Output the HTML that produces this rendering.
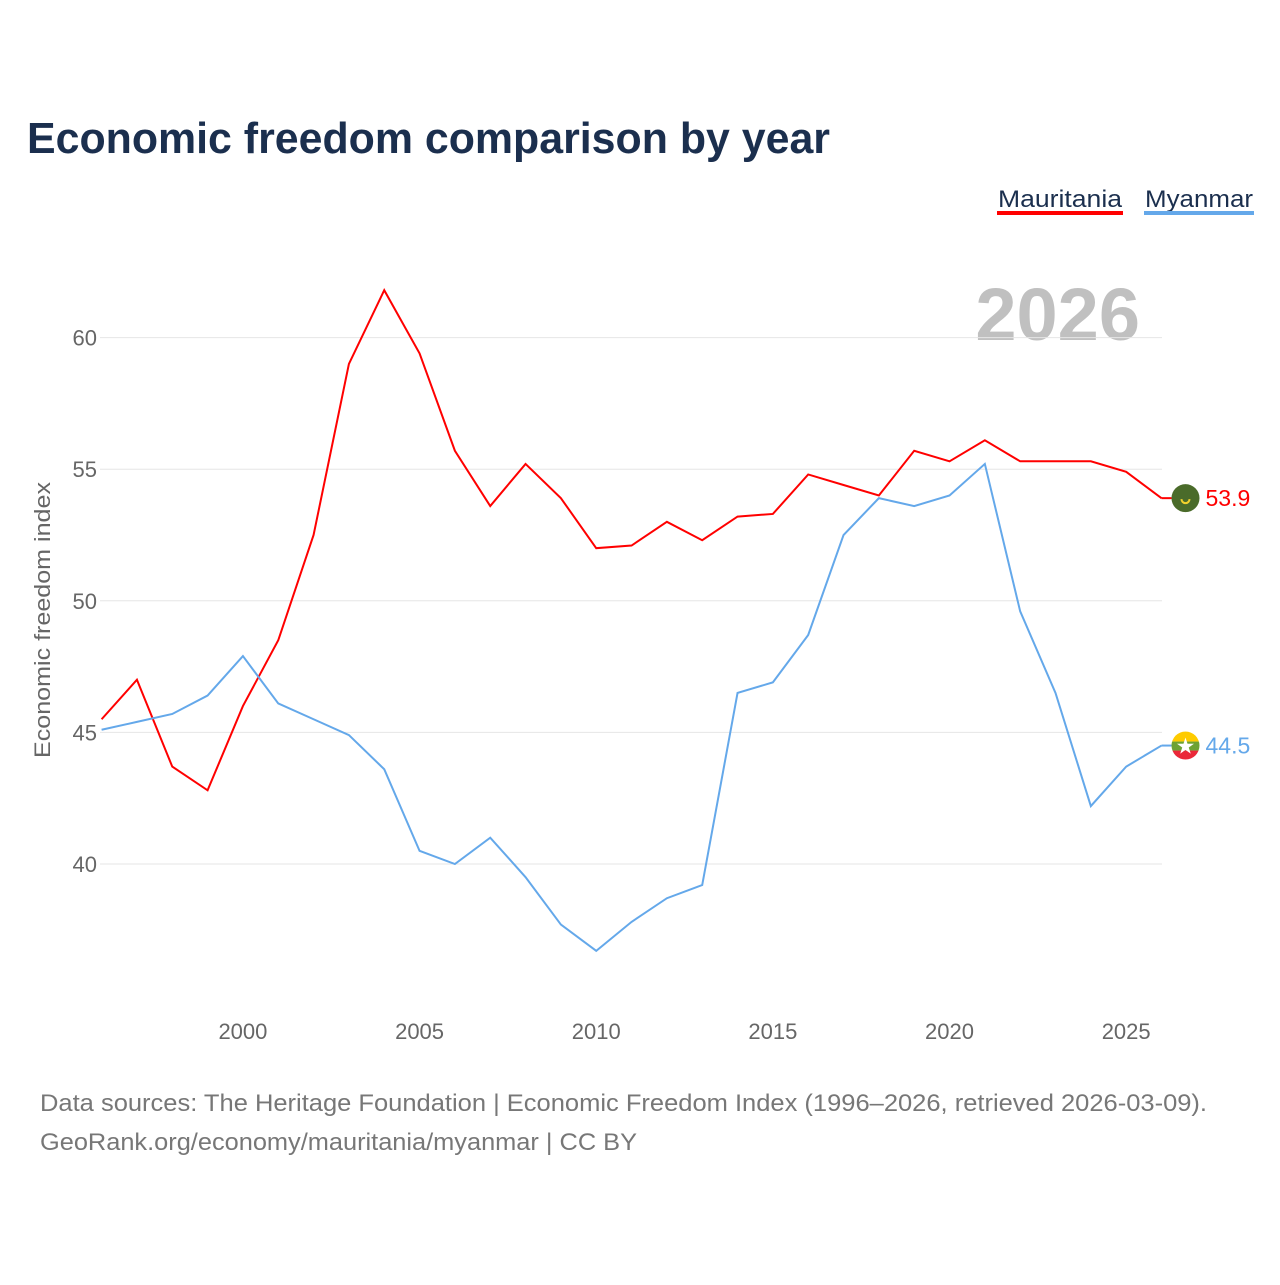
<!DOCTYPE html>
<html><head><meta charset="utf-8"><style>
body{margin:0;background:#fff;width:1280px;height:1280px;overflow:hidden;font-family:"Liberation Sans",sans-serif}
</style></head><body>
<svg id="c" width="1280" height="1280" xmlns="http://www.w3.org/2000/svg">
<text x="27" y="153" font-size="44" font-weight="bold" fill="#1b2f4e" textLength="803" lengthAdjust="spacingAndGlyphs">Economic freedom comparison by year</text>
<g><text x="998" y="207" font-size="24" fill="#1b2f4e" textLength="124" lengthAdjust="spacingAndGlyphs">Mauritania</text><rect x="997" y="211" width="126" height="4" fill="#ff0000"/></g>
<g><text x="1145" y="207" font-size="24" fill="#1b2f4e" textLength="108" lengthAdjust="spacingAndGlyphs">Myanmar</text><rect x="1144" y="211" width="110" height="4" fill="#64a8ea"/></g>
<text x="1140" y="340" text-anchor="end" font-size="74" font-weight="bold" fill="#c0c0c0">2026</text>
<text transform="translate(50,620) rotate(-90)" text-anchor="middle" font-size="22" fill="#666" textLength="276" lengthAdjust="spacingAndGlyphs">Economic freedom index</text>
<g id="grid"></g><g id="xt"></g><g id="lines"></g>
<text x="40" y="1111" font-size="24" fill="#777" textLength="1167" lengthAdjust="spacingAndGlyphs">Data sources: The Heritage Foundation | Economic Freedom Index (1996–2026, retrieved 2026-03-09).</text>
<text x="40" y="1150" font-size="24" fill="#777" textLength="597" lengthAdjust="spacingAndGlyphs">GeoRank.org/economy/mauritania/myanmar | CC BY</text>
</svg>
<script>
const years=[1996,1997,1998,1999,2000,2001,2002,2003,2004,2005,2006,2007,2008,2009,2010,2011,2012,2013,2014,2015,2016,2017,2018,2019,2020,2021,2022,2023,2024,2025,2026];
const mauritania=[45.5,47.0,43.7,42.8,46.0,48.5,52.5,59.0,61.8,59.4,55.7,53.6,55.2,53.9,52.0,52.1,53.0,52.3,53.2,53.3,54.8,54.4,54.0,55.7,55.3,56.1,55.3,55.3,55.3,54.9,53.9];
const myanmar=[45.1,45.4,45.7,46.4,47.9,46.1,45.5,44.9,43.6,40.5,40.0,41.0,39.5,37.7,36.7,37.8,38.7,39.2,46.5,46.9,48.7,52.5,53.9,53.6,54.0,55.2,49.6,46.5,42.2,43.7,44.5];
const yTicks=[40,45,50,55,60];
const xTicks=[2000,2005,2010,2015,2020,2025];
const NS='http://www.w3.org/2000/svg';
const X=y=>101.6+(y-1996)*35.33;
const Y=v=>864-(v-40)*26.32;
function mk(t,a,p){const e=document.createElementNS(NS,t);for(const k in a)e.setAttribute(k,a[k]);p.appendChild(e);return e;}
const g=document.getElementById('grid');
yTicks.forEach(v=>{
 const l=mk('line',{x1:100,x2:1162,y1:Y(v),y2:Y(v),stroke:'#e6e6e6','stroke-width':1},g);
 
 
 const t=mk('text',{x:97,y:Y(v)+8,'text-anchor':'end','font-size':22,fill:'#666'},g);t.textContent=v;
 
 
});
const xt=document.getElementById('xt');
xTicks.forEach(v=>{
 const t=mk('text',{x:X(v),y:1039,'text-anchor':'middle','font-size':22,fill:'#666'},xt);t.textContent=v;
 
 
});
const L=document.getElementById('lines');
function series(vals,col,name){
 const p=mk('polyline',{points:vals.map((v,i)=>X(years[i])+','+Y(v)).join(' '),fill:'none',stroke:col,'stroke-width':2},L);
 
 
 const lv=vals[vals.length-1],lx=X(years[years.length-1]);
 mk('line',{x1:lx,x2:lx+10,y1:Y(lv),y2:Y(lv),stroke:col,'stroke-width':2},L);
 const t=mk('text',{x:lx+44,y:Y(lv)+8,'font-size':23,fill:col},L);t.textContent=lv.toFixed(1);
 
 
 return [lx+24,Y(lv)];
}
const [mx,my]=series(mauritania,'#ff0000','mauritania');
const [bx,by]=series(myanmar,'#64a8ea','myanmar');
const f1=mk('g',{},L);


mk('circle',{cx:mx,cy:my,r:14,fill:'#4a6b2a'},f1);
mk('path',{d:`M${mx-4} ${my+1} a4 4 0 0 0 8 0`,stroke:'#f2d12d','stroke-width':2,fill:'none'},f1);
const f2=mk('g',{},L);


const cp=mk('clipPath',{id:'cp'},f2);mk('circle',{cx:bx,cy:by,r:14},cp);
mk('rect',{x:bx-14,y:by-14,width:28,height:10,fill:'#fecb00','clip-path':'url(#cp)'},f2);
mk('rect',{x:bx-14,y:by-4,width:28,height:9,fill:'#6da234','clip-path':'url(#cp)'},f2);
mk('rect',{x:bx-14,y:by+5,width:28,height:10,fill:'#ea2839','clip-path':'url(#cp)'},f2);
mk('text',{x:bx,y:by+8,'text-anchor':'middle','font-size':22,fill:'#fff'},f2).textContent='★';
</script>
</body></html>
